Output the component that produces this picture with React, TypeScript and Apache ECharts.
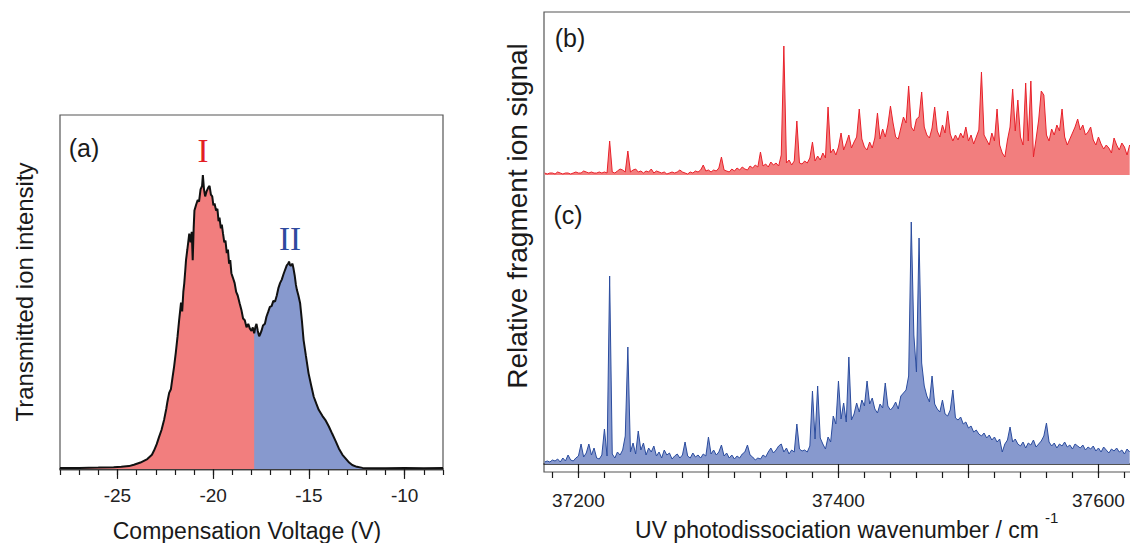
import React, { useEffect, useRef } from "react";
import * as echarts from "echarts";

// ---------- Panel (a): compensation-voltage scan [V, relative intensity] ----------
const cvScan: [number, number][] = [
  [-28, 0.003], [-27, 0.003], [-26, 0.004], [-25.2, 0.005], [-24.8, 0.006], [-24.4, 0.008], [-24.14, 0.012], [-23.8, 0.018], [-23.44, 0.028], [-23.2, 0.04],
  [-23.09, 0.052], [-22.95, 0.07], [-22.83, 0.09], [-22.7, 0.11], [-22.56, 0.14], [-22.45, 0.17], [-22.39, 0.19], [-22.3, 0.215], [-22.21, 0.225], [-22.12, 0.26],
  [-22.04, 0.29], [-21.95, 0.33], [-21.86, 0.375], [-21.78, 0.42], [-21.68, 0.47], [-21.62, 0.445], [-21.56, 0.5], [-21.51, 0.525], [-21.46, 0.56], [-21.42, 0.59],
  [-21.35, 0.62], [-21.25, 0.665], [-21.18, 0.64], [-21.12, 0.67], [-21.07, 0.59], [-21.02, 0.68], [-20.98, 0.73], [-20.9, 0.745], [-20.81, 0.76], [-20.74, 0.755],
  [-20.66, 0.79], [-20.58, 0.8], [-20.54, 0.83], [-20.48, 0.79], [-20.42, 0.77], [-20.34, 0.785], [-20.26, 0.795], [-20.19, 0.8], [-20.12, 0.775], [-20.05, 0.77],
  [-19.99, 0.745], [-19.93, 0.75], [-19.85, 0.73], [-19.78, 0.735], [-19.72, 0.7], [-19.67, 0.71], [-19.6, 0.68], [-19.55, 0.69], [-19.49, 0.666], [-19.42, 0.64],
  [-19.36, 0.645], [-19.29, 0.61], [-19.23, 0.62], [-19.17, 0.58], [-19.11, 0.59], [-19.05, 0.553], [-18.97, 0.54], [-18.88, 0.525], [-18.8, 0.5], [-18.72, 0.49],
  [-18.62, 0.468], [-18.53, 0.45], [-18.44, 0.425], [-18.35, 0.42], [-18.26, 0.4], [-18.17, 0.41], [-18.09, 0.397], [-18, 0.39], [-17.93, 0.4], [-17.86, 0.383],
  [-17.8, 0.4], [-17.74, 0.41], [-17.67, 0.39], [-17.6, 0.375], [-17.56, 0.379], [-17.48, 0.39], [-17.4, 0.405], [-17.3, 0.41], [-17.22, 0.43], [-17.12, 0.445],
  [-17.04, 0.458], [-16.95, 0.46], [-16.86, 0.475], [-16.77, 0.473], [-16.68, 0.49], [-16.6, 0.51], [-16.51, 0.525], [-16.42, 0.535], [-16.33, 0.55], [-16.25, 0.562],
  [-16.16, 0.575], [-16.08, 0.58], [-16.04, 0.586], [-15.98, 0.575], [-15.92, 0.575], [-15.86, 0.58], [-15.81, 0.567], [-15.74, 0.545], [-15.68, 0.52], [-15.63, 0.506],
  [-15.55, 0.49], [-15.46, 0.468], [-15.37, 0.42], [-15.28, 0.364], [-15.16, 0.32], [-15.02, 0.27], [-14.88, 0.235], [-14.75, 0.204], [-14.62, 0.185], [-14.49, 0.167],
  [-14.3, 0.15], [-14.14, 0.138], [-13.96, 0.12], [-13.79, 0.1], [-13.6, 0.078], [-13.44, 0.058], [-13.25, 0.04], [-13.09, 0.03], [-12.9, 0.018], [-12.74, 0.011],
  [-12.5, 0.006], [-12.2, 0.003], [-11, 0.002], [-10, 0.003], [-9, 0.002], [-8, 0.003],
];
const conformerSplitV = -17.86;

const cvMajorTicks = [-25, -20, -15, -10];
const cvMinorTicks = [-28, -27, -26, -25, -24, -23, -22, -21, -20, -19, -18, -17, -16, -15, -14, -13, -12, -11, -10, -9, -8];

// ---------- Panels (b),(c): UV photodissociation spectra, sampled every 2 cm-1 from 37174 ----------
const wnStart = 37174;
const wnStep = 2;
const spectrumB = [
  2, 1, 2, 2, 1, 3, 2, 1, 2, 2,
  1, 2, 3, 2, 2, 4, 3, 2, 3, 2,
  2, 3, 2, 3, 2, 34, 3, 2, 4, 6,
  5, 3, 24, 3, 5, 6, 3, 4, 2, 4,
  3, 6, 2, 4, 3, 2, 3, 1, 2, 3,
  2, 3, 5, 3, 2, 1, 3, 2, 4, 3,
  5, 10, 4, 5, 3, 5, 4, 7, 18, 5,
  4, 3, 6, 4, 7, 5, 8, 6, 5, 9,
  7, 10, 8, 23, 9, 11, 8, 13, 10, 12,
  9, 20, 129, 12, 15, 10, 14, 54, 12, 11,
  14, 12, 17, 33, 14, 19, 15, 22, 17, 68,
  22, 26, 20, 28, 42, 25, 32, 40, 27, 33,
  38, 66, 36, 28, 25, 33, 27, 37, 62, 36,
  46, 38, 50, 69, 52, 38, 36, 47, 58, 52,
  89, 48, 44, 56, 58, 83, 48, 40, 37, 47,
  68, 44, 38, 50, 42, 64, 41, 34, 40, 35,
  42, 37, 48, 34, 40, 31, 38, 45, 103, 40,
  35, 30, 42, 34, 66, 30, 22, 18, 35, 48,
  86, 44, 75, 38, 30, 92, 34, 94, 18, 36,
  55, 84, 80, 40, 34, 46, 40, 50, 44, 66,
  38, 30, 36, 42, 48, 56, 45, 50, 40, 43,
  48, 35, 30, 38, 31, 26, 30, 27, 22, 37,
  30, 25, 32, 28, 20, 30,
];
const spectrumC = [
  2, 3, 2, 4, 3, 5, 2, 6, 3, 9,
  4, 3, 6, 8, 20, 7, 11, 20, 9, 16,
  6, 5, 9, 35, 8, 188, 10, 6, 12, 9,
  14, 28, 117, 12, 21, 10, 33, 14, 21, 9,
  16, 12, 18, 8, 12, 6, 14, 9, 11, 5,
  8, 10, 6, 9, 22, 8, 6, 11, 7, 9,
  6, 10, 8, 27, 10, 14, 9, 12, 19, 8,
  11, 6, 9, 5, 8, 6, 10, 12, 19, 9,
  7, 4, 6, 5, 9, 7, 12, 16, 11, 14,
  18, 20, 12, 16, 10, 14, 12, 40, 15, 13,
  14, 12, 18, 73, 25, 78, 26, 20, 15, 27,
  22, 48, 40, 83, 45, 61, 42, 107, 44, 50,
  61, 52, 64, 58, 83, 60, 66, 55, 51, 60,
  56, 81, 58, 54, 57, 62, 55, 68, 71, 74,
  88, 242, 129, 92, 226, 101, 78, 68, 62, 88,
  60, 55, 52, 64, 50, 48, 54, 74, 46, 44,
  47, 40, 42, 36, 38, 32, 34, 30, 28, 31,
  26, 29, 24, 27, 22, 25, 12, 20, 24, 37,
  22, 25, 20, 18, 22, 16, 21, 19, 24, 17,
  20, 23, 28, 41, 22, 18, 21, 16, 20, 18,
  22, 17, 19, 15, 20, 18, 16, 19, 14, 17,
  15, 18, 13, 16, 12, 17, 14, 11, 15, 13,
  16, 12, 14, 10, 15, 12,
];
const wnMin = 37173.5;
const wnMax = 37625.8;
const wnMajorTicks = [37200, 37300, 37400, 37500, 37600];
const wnLabelTicks = [37200, 37400, 37600];
const wnMinorTicks = [
  37180, 37200, 37220, 37240, 37260, 37280, 37300, 37320, 37340, 37360, 37380, 37400,
  37420, 37440, 37460, 37480, 37500, 37520, 37540, 37560, 37580, 37600, 37620,
];

const SANS = "'Liberation Sans', Arial, sans-serif";
const SERIF = "'Liberation Serif', 'Times New Roman', serif";

export default function App() {
  const ref = useRef<HTMLDivElement>(null);

  useEffect(() => {
    if (!ref.current) return;
    const chart = echarts.init(ref.current, undefined, { renderer: "svg" });

    const redPart = cvScan.filter((p) => p[0] <= conformerSplitV);
    // blue fill starts one sample earlier so it sits under the red edge (no seam)
    const splitIdx = cvScan.findIndex((p) => p[0] >= conformerSplitV);
    const bluePart = cvScan.slice(Math.max(0, splitIdx - 1));
    const specB = spectrumB.map((v, i) => [wnStart + i * wnStep, v]);
    const specC = spectrumC.map((v, i) => [wnStart + i * wnStep, v]);

    const txt = (text: string, x: number, y: number, size: number, extra: any = {}) => ({
      type: "text",
      x,
      y,
      silent: true,
      ...extra,
      style: {
        text,
        fontSize: size,
        fontFamily: SANS,
        fill: "#1a1a1a",
        align: "center",
        verticalAlign: "middle",
        textAlign: "center",
        textVerticalAlign: "middle",
        ...(extra.style || {}),
      },
    });

    chart.setOption({
      animation: false,
      backgroundColor: "#ffffff",
      grid: [
        { left: 60, top: 115, width: 383, height: 355, show: true, borderColor: "#555", borderWidth: 1.2, backgroundColor: "transparent" },
        { left: 544, top: 12, width: 588, height: 460, show: true, borderColor: "#555", borderWidth: 1.2, backgroundColor: "transparent" },
        { left: 544, top: 12, width: 588, height: 163, show: false },
      ],
      xAxis: [
        {
          type: "value", gridIndex: 0, min: -28, max: -8, position: "bottom",
          axisLine: { show: true, lineStyle: { color: "#1a1a1a", width: 1.5 } },
          axisTick: { show: true, customValues: cvMajorTicks, length: 10, lineStyle: { color: "#1a1a1a", width: 1.2 } },
          axisLabel: {
            show: true, customValues: cvMajorTicks, margin: 16,
            color: "#222", fontSize: 19, fontFamily: SANS,
            formatter: (v: number) => String(v),
          },
          splitLine: { show: false },
        },
        {
          type: "value", gridIndex: 0, min: -28, max: -8, position: "bottom",
          axisLine: { show: false },
          axisTick: { show: true, customValues: cvMinorTicks, length: 5, lineStyle: { color: "#1a1a1a", width: 1.2 } },
          axisLabel: { show: false },
          splitLine: { show: false },
        },
        {
          type: "value", gridIndex: 1, min: wnMin, max: wnMax, position: "bottom",
          axisLine: { show: true, lineStyle: { color: "#1a1a1a", width: 1.5 } },
          axisTick: { show: true, customValues: wnMajorTicks, length: 10, lineStyle: { color: "#1a1a1a", width: 1.2 } },
          axisLabel: {
            show: true, customValues: wnLabelTicks, margin: 19,
            color: "#222", fontSize: 19, fontFamily: SANS,
            formatter: (v: number) => String(v),
          },
          splitLine: { show: false },
        },
        {
          type: "value", gridIndex: 1, min: wnMin, max: wnMax, position: "bottom",
          axisLine: { show: false },
          axisTick: { show: true, customValues: wnMinorTicks, length: 6, lineStyle: { color: "#1a1a1a", width: 1.2 } },
          axisLabel: { show: false },
          splitLine: { show: false },
        },
        { type: "value", gridIndex: 2, min: wnMin, max: wnMax, show: false },
      ],
      yAxis: [
        { type: "value", gridIndex: 0, min: -0.003, max: 1, show: false },
        { type: "value", gridIndex: 1, min: -8, max: 452, show: false },
        { type: "value", gridIndex: 2, min: 0, max: 163, show: false },
      ],
      series: [
        {
          name: "II", type: "line", xAxisIndex: 0, yAxisIndex: 0, data: bluePart,
          symbol: "none", silent: true, lineStyle: { width: 0 },
          areaStyle: { color: "#8799ce", opacity: 1 }, z: 2,
        },
        {
          name: "I", type: "line", xAxisIndex: 0, yAxisIndex: 0, data: redPart,
          symbol: "none", silent: true, lineStyle: { width: 0 },
          areaStyle: { color: "#f27e7e", opacity: 1 }, z: 3,
        },
        {
          name: "CV scan", type: "line", xAxisIndex: 0, yAxisIndex: 0, data: cvScan,
          symbol: "none", silent: true, lineStyle: { color: "#111", width: 2 }, z: 4,
        },
        {
          name: "(b)", type: "line", xAxisIndex: 4, yAxisIndex: 2, data: specB,
          symbol: "none", silent: true, lineStyle: { color: "#e8212a", width: 1 },
          areaStyle: { color: "#f27e7e", opacity: 1 }, z: 2,
        },
        {
          name: "(c)", type: "line", xAxisIndex: 2, yAxisIndex: 1, data: specC,
          symbol: "none", silent: true, lineStyle: { color: "#2b4c9e", width: 1 },
          areaStyle: { color: "#8799ce", opacity: 1 }, z: 2,
        },
      ],
      graphic: [
        txt("(a)", 84, 148, 25),
        txt("(b)", 570, 38, 25),
        txt("(c)", 568, 215, 25),
        txt("I", 203, 151, 33, { style: { fontFamily: SERIF, fill: "#e31e24" } }),
        txt("II", 290, 239, 33, { style: { fontFamily: SERIF, fill: "#2e4a9e" } }),
        txt("Compensation Voltage (V)", 247, 531, 23),
        txt("UV photodissociation wavenumber / cm", 837, 530, 23),
        txt("-1", 1045, 517, 15, { style: { align: "left", textAlign: "left" } }),
        txt("Transmitted ion intensity", 24, 292, 24, { rotation: Math.PI / 2 }),
        txt("Relative fragment ion signal", 517, 216, 28, { rotation: Math.PI / 2 }),
      ],
    });

    return () => chart.dispose();
  }, []);

  return (
    <div style={{ position: "fixed", left: 0, top: 0, width: 1130, height: 543, overflow: "hidden", background: "#fff" }}>
      <div ref={ref} style={{ width: 1160, height: 543 }} />
    </div>
  );
}
